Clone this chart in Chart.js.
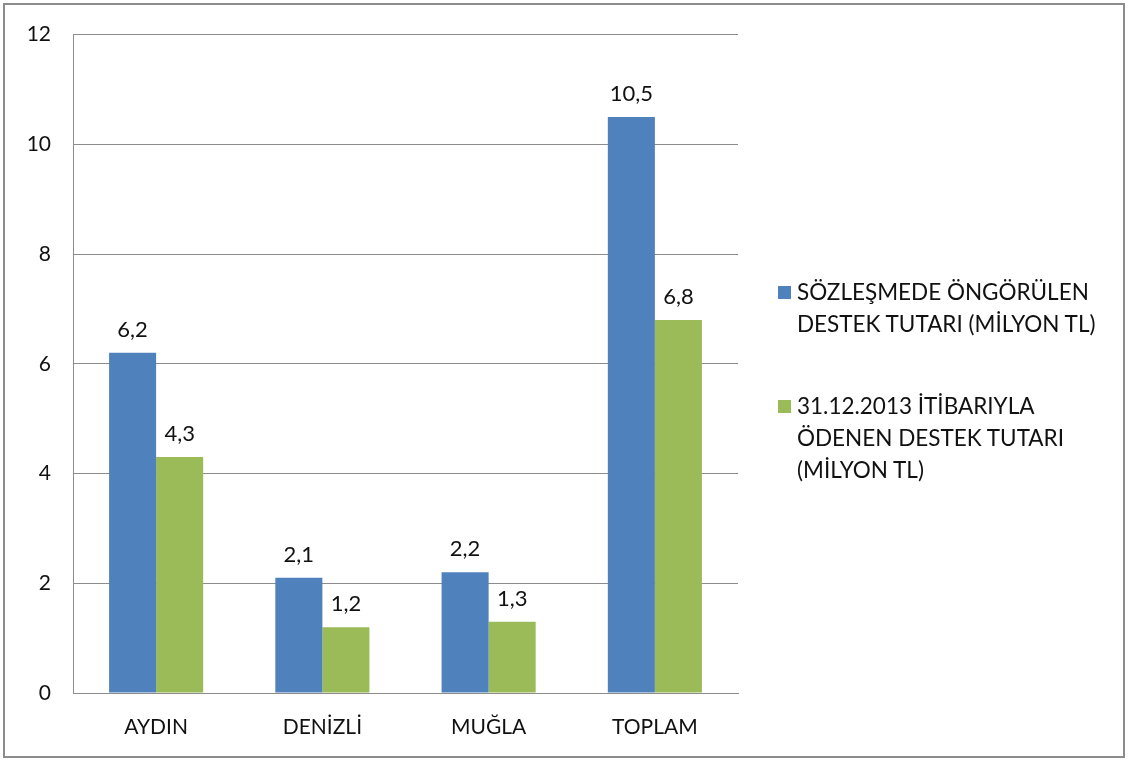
<!DOCTYPE html>
<html>
<head>
<meta charset="utf-8">
<script src="https://cdn.jsdelivr.net/npm/chart.js@4/dist/chart.umd.min.js"></script>
<style>
  body { margin: 0; background: #fff; }
  #wrap { position: relative; width: 1129px; height: 762px; }
  #frame { position: absolute; left: 3px; top: 3px; width: 1118px; height: 751px; border: 2px solid #8c8c8c; }
  #legend { position: absolute; left: 778px; top: 276px; font-family: Lato, sans-serif; font-size: 22.5px; color: #111; line-height: 32px; }
  .item { display: flex; align-items: flex-start; margin-bottom: 50px; }
  .box { width: 13px; height: 13px; margin: 10px 6px 0 0; flex: none; }
</style>
</head>
<body>
<div id="wrap">
  <canvas id="chart" width="1129" height="762"></canvas>
  <div id="frame"></div>
  <div id="legend"></div>
</div>
<script>
// categories and values
const categories = ['AYDIN', 'DENİZLİ', 'MUĞLA', 'TOPLAM'];
const contracted = [6.2, 2.1, 2.2, 10.5];
const paid = [4.3, 1.2, 1.3, 6.8];
const seriesNames = [
    ['SÖZLEŞMEDE ÖNGÖRÜLEN', 'DESTEK TUTARI (MİLYON TL)'],
    ['31.12.2013 İTİBARIYLA', 'ÖDENEN DESTEK TUTARI', '(MİLYON TL)']
];
const seriesColors = ['#4f81bd', '#9bbb59'];
const yTicks = [0, 2, 4, 6, 8, 10, 12];

const fmt = v => v.toFixed(1).replace('.', ',');

// value labels above the bars
const valueLabels = {
    id: 'valueLabels',
    afterDatasetsDraw(chart) {
        const ctx = chart.ctx;
        ctx.save();
        ctx.font = '22px Lato, sans-serif';
        ctx.fillStyle = '#111';
        ctx.textAlign = 'center';
        ctx.textBaseline = 'bottom';
        chart.data.datasets.forEach((ds, i) => {
            chart.getDatasetMeta(i).data.forEach((bar, j) => {
                ctx.fillText(fmt(ds.data[j]), bar.x, bar.y - 12);
            });
        });
        ctx.restore();
    }
};

const ctx = document.getElementById('chart').getContext('2d');
const chart = new Chart(ctx, {
    type: 'bar',
    data: {
        labels: categories,
        datasets: [
            { label: seriesNames[0].join(' '), data: contracted, backgroundColor: seriesColors[0] },
            { label: seriesNames[1].join(' '), data: paid, backgroundColor: seriesColors[1] }
        ]
    },
    options: {
        responsive: false,
        animation: false,
        layout: { padding: { left: 0, top: 29, right: 391, bottom: 0 } },
        datasets: { bar: { categoryPercentage: 0.566, barPercentage: 1 } },
        plugins: { legend: { display: false }, tooltip: { enabled: false } },
        scales: {
            x: {
                grid: { display: false, drawTicks: false },
                border: { color: '#8c8c8c', width: 1 },
                ticks: { color: '#111', font: { family: 'Lato', size: 21 }, padding: 22 },
                afterFit(scale) { scale.height = 69; }
            },
            y: {
                min: 0,
                max: 12,
                afterBuildTicks(scale) { scale.ticks = yTicks.map(v => ({ value: v })); },
                grid: { color: '#8c8c8c', drawTicks: false },
                border: { color: '#8c8c8c', width: 1 },
                ticks: { color: '#111', font: { family: 'Lato', size: 21 }, padding: 22 },
                afterFit(scale) { scale.width = 73; }
            }
        }
    },
    plugins: [valueLabels]
});

// legend with wrapped lines, built from the series names
const legend = document.getElementById('legend');
seriesNames.forEach((lines, i) => {
    const item = document.createElement('div');
    item.className = 'item';
    item.innerHTML = `<span class="box" style="background:${seriesColors[i]}"></span><span>${lines.join('<br>')}</span>`;
    legend.appendChild(item);
});
</script>
</body>
</html>
